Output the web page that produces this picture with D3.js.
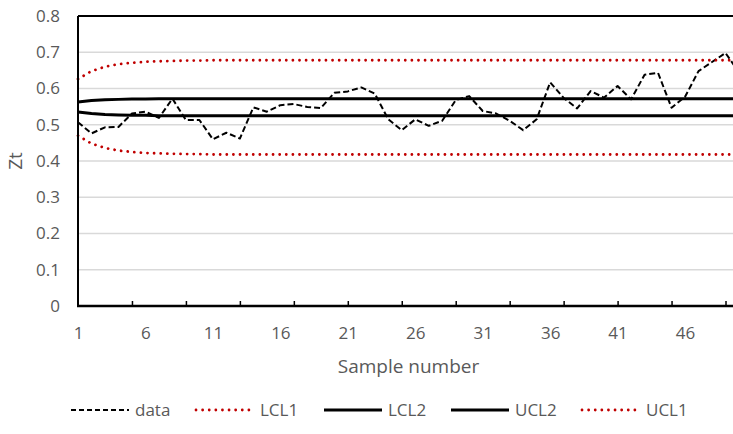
<!DOCTYPE html>
<html>
<head>
<meta charset="utf-8">
<script src="https://cdn.jsdelivr.net/npm/d3@7"></script>
<style>
  body { margin: 0; background: #fff; }
  svg text { font-family: "Open Sans", "Noto Sans", sans-serif; fill: #595959; }
</style>
</head>
<body>
<svg id="chart" width="733" height="434"></svg>
<script>
// sample numbers 1..50 and the values
var samples = [1,2,3,4,5,6,7,8,9,10,11,12,13,14,15,16,17,18,19,20,
               21,22,23,24,25,26,27,28,29,30,31,32,33,34,35,36,37,38,39,40,
               41,42,43,44,45,46,47,48,49,50];

var data = [0.507,0.476,0.493,0.494,0.531,0.536,0.519,0.572,0.513,0.513,
            0.460,0.478,0.462,0.548,0.536,0.554,0.557,0.549,0.546,0.588,
            0.592,0.603,0.586,0.515,0.485,0.515,0.497,0.511,0.568,0.579,
            0.538,0.531,0.511,0.485,0.515,0.617,0.574,0.545,0.593,0.575,
            0.607,0.570,0.638,0.643,0.547,0.577,0.648,0.673,0.698,0.645];

var lcl1 = [0.470,0.448,0.436,0.429,0.425,0.422,0.421,0.420,0.419,0.419,
            0.418,0.418,0.418,0.418,0.418,0.418,0.418,0.418,0.418,0.418,
            0.418,0.418,0.418,0.418,0.418,0.418,0.418,0.418,0.418,0.418,
            0.418,0.418,0.418,0.418,0.418,0.418,0.418,0.418,0.418,0.418,
            0.418,0.418,0.418,0.418,0.418,0.418,0.418,0.418,0.418,0.418];

var lcl2 = [0.535,0.531,0.528,0.527,0.526,0.526,0.525,0.525,0.525,0.525,
            0.525,0.525,0.525,0.525,0.525,0.525,0.525,0.525,0.525,0.525,
            0.525,0.525,0.525,0.525,0.525,0.525,0.525,0.525,0.525,0.525,
            0.525,0.525,0.525,0.525,0.525,0.525,0.525,0.525,0.525,0.525,
            0.525,0.525,0.525,0.525,0.525,0.525,0.525,0.525,0.525,0.525];

var ucl2 = [0.563,0.567,0.569,0.570,0.571,0.571,0.572,0.572,0.572,0.572,
            0.572,0.572,0.572,0.572,0.572,0.572,0.572,0.572,0.572,0.572,
            0.572,0.572,0.572,0.572,0.572,0.572,0.572,0.572,0.572,0.572,
            0.572,0.572,0.572,0.572,0.572,0.572,0.572,0.572,0.572,0.572,
            0.572,0.572,0.572,0.572,0.572,0.572,0.572,0.572,0.572,0.572];

var ucl1 = [0.626,0.648,0.660,0.667,0.671,0.674,0.675,0.676,0.677,0.677,
            0.678,0.678,0.678,0.678,0.678,0.678,0.678,0.678,0.678,0.678,
            0.678,0.678,0.678,0.678,0.678,0.678,0.678,0.678,0.678,0.678,
            0.678,0.678,0.678,0.678,0.678,0.678,0.678,0.678,0.678,0.678,
            0.678,0.678,0.678,0.678,0.678,0.678,0.678,0.678,0.678,0.678];

var seriesNames = ["data", "LCL1", "LCL2", "UCL2", "UCL1"];
var yTicks = [0, 0.1, 0.2, 0.3, 0.4, 0.5, 0.6, 0.7, 0.8];
var xLabelTicks = [1, 6, 11, 16, 21, 26, 31, 36, 41, 46];
var xMarkTicks = [5, 9, 13, 17, 21, 25, 29, 33, 37, 41, 45, 49];

var svg = d3.select("#chart"),
    plot = {left: 78, top: 16, bottom: 306, right: 739};

var x = d3.scaleLinear().domain([1, 50]).range([plot.left, plot.right]);
var y = d3.scaleLinear().domain([0, 0.8]).range([plot.bottom, plot.top]);

// gridlines
svg.append("g").attr("class", "grid")
  .selectAll("line")
  .data(yTicks.filter(function(d){ return d > 0 && d < 0.8; }))
  .enter().append("line")
  .attr("x1", plot.left).attr("x2", 733)
  .attr("y1", function(d){ return y(d); })
  .attr("y2", function(d){ return y(d); })
  .attr("stroke", "#d9d9d9")
  .attr("stroke-width", 1.5);

// line styles per series
var styles = {
  data: {color: "#000", width: 2, dash: "6,3", cap: "butt"},
  LCL1: {color: "#c00000", width: 2.8, dash: "0.01,6.6", cap: "round"},
  LCL2: {color: "#000", width: 3, dash: null, cap: "butt"},
  UCL2: {color: "#000", width: 3, dash: null, cap: "butt"},
  UCL1: {color: "#c00000", width: 2.8, dash: "0.01,6.6", cap: "round"}
};
var values = {data: data, LCL1: lcl1, LCL2: lcl2, UCL2: ucl2, UCL1: ucl1};

var line = d3.line()
  .x(function(d){ return x(d[0]); })
  .y(function(d){ return y(d[1]); });

svg.append("g").attr("class", "lines")
  .selectAll("path")
  .data(seriesNames)
  .enter().append("path")
  .attr("d", function(name){
    return line(samples.map(function(s, i){ return [s, values[name][i]]; }));
  })
  .attr("fill", "none")
  .attr("stroke", function(n){ return styles[n].color; })
  .attr("stroke-width", function(n){ return styles[n].width; })
  .attr("stroke-dasharray", function(n){ return styles[n].dash; })
  .attr("stroke-linecap", function(n){ return styles[n].cap; })
  .attr("stroke-linejoin", "round");

// plot border (left, top, bottom)
svg.append("line").attr("x1", plot.left).attr("x2", 733)
  .attr("y1", plot.top).attr("y2", plot.top)
  .attr("stroke", "#000").attr("stroke-width", 2);
svg.append("line").attr("x1", plot.left).attr("x2", plot.left)
  .attr("y1", plot.top).attr("y2", plot.bottom)
  .attr("stroke", "#000").attr("stroke-width", 2);

// x axis
var xAxis = svg.append("g")
  .attr("transform", "translate(0," + plot.bottom + ")")
  .call(d3.axisTop(x).tickValues(xMarkTicks).tickSize(5).tickFormat(""));
xAxis.select(".domain").remove();
xAxis.selectAll(".tick line").attr("stroke", "#000").attr("stroke-width", 1.5);
svg.append("line").attr("x1", plot.left - 1).attr("x2", 733)
  .attr("y1", plot.bottom).attr("y2", plot.bottom)
  .attr("stroke", "#000").attr("stroke-width", 2.5);

var xLabels = svg.append("g")
  .attr("transform", "translate(0," + plot.bottom + ")")
  .call(d3.axisBottom(x).tickValues(xLabelTicks).tickSize(0)
        .tickFormat(d3.format("d")));
xLabels.select(".domain").remove();
xLabels.selectAll("text").attr("font-size", 17).attr("fill", "#595959")
  .attr("font-family", null).attr("dy", "0.35em").attr("y", 27);

// y axis
var yAxis = svg.append("g")
  .attr("transform", "translate(" + plot.left + ",0)")
  .call(d3.axisLeft(y).tickValues(yTicks).tickSize(0).tickPadding(18)
        .tickFormat(function(d){ return d === 0 ? "0" : d3.format(".1f")(d); }));
yAxis.select(".domain").remove();
yAxis.selectAll("text").attr("font-size", 17).attr("fill", "#595959")
  .attr("font-family", null);

// axis titles
svg.append("text")
  .attr("x", (plot.left + plot.right) / 2).attr("y", 366)
  .attr("text-anchor", "middle").attr("dy", "0.35em")
  .attr("font-size", 19)
  .text("Sample number");
svg.append("text")
  .attr("transform", "translate(15," + (plot.top + plot.bottom) / 2 + ") rotate(-90)")
  .attr("text-anchor", "middle").attr("dy", "0.35em")
  .attr("font-size", 19)
  .text("Zt");

// legend
var legendX = [71, 196, 324, 451, 582];
var legend = svg.append("g").attr("class", "legend")
  .selectAll("g")
  .data(seriesNames)
  .enter().append("g")
  .attr("transform", function(d, i){ return "translate(" + legendX[i] + ",410)"; });
legend.append("line")
  .attr("x1", 0).attr("x2", 58).attr("y1", 0).attr("y2", 0)
  .attr("stroke", function(n){ return styles[n].color; })
  .attr("stroke-width", function(n){ return styles[n].width; })
  .attr("stroke-dasharray", function(n){ return n === "data" ? "5,3" : styles[n].dash; })
  .attr("stroke-linecap", function(n){ return styles[n].cap; });
legend.append("text")
  .attr("x", 64).attr("y", 0).attr("dy", "0.35em")
  .attr("font-size", 17)
  .text(function(d){ return d; });
</script>
</body>
</html>
